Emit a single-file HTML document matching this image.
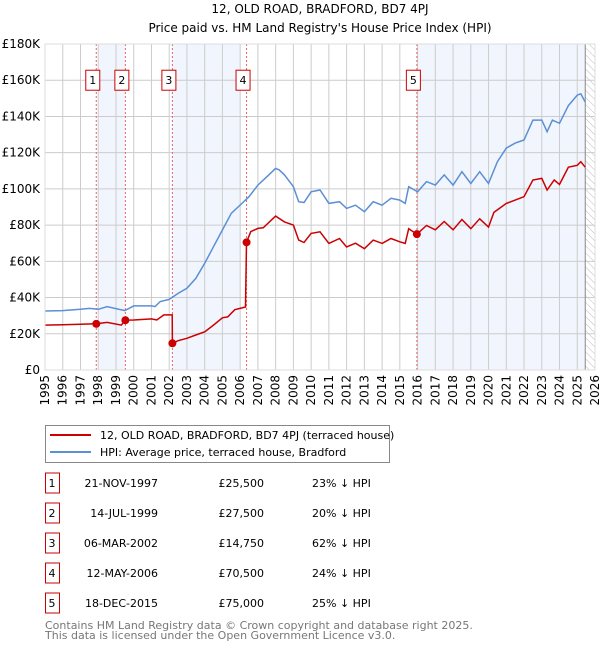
<!DOCTYPE html>
<html><head><meta charset="utf-8">
<style>
html,body{margin:0;padding:0;background:#fff;width:600px;height:650px;overflow:hidden}
svg{display:block;font-family:"DejaVu Sans","Liberation Sans",sans-serif}
</style></head>
<body>
<svg id="c" width="600" height="650">
<defs>
<pattern id="hatch" width="5" height="5" patternUnits="userSpaceOnUse" patternTransform="rotate(-45)">
<line x1="0" y1="0" x2="0" y2="5" stroke="#bbb" stroke-width="1"/></pattern>
</defs>
<text x="320" y="13" text-anchor="middle" font-size="12" fill="#000">12, OLD ROAD, BRADFORD, BD7 4PJ</text>
<text x="320" y="32" text-anchor="middle" font-size="12" fill="#000">Price paid vs. HM Land Registry's House Price Index (HPI)</text>
<g id="plot"></g>
<g>
<rect x="45.5" y="425.5" width="344" height="37" fill="#fff" stroke="#888"/>
<line x1="50" y1="435" x2="91" y2="435" stroke="#cc0000" stroke-width="2"/>
<text x="100" y="439" font-size="11">12, OLD ROAD, BRADFORD, BD7 4PJ (terraced house)</text>
<line x1="50" y1="452" x2="91" y2="452" stroke="#5b8fd6" stroke-width="2"/>
<text x="100" y="456" font-size="11">HPI: Average price, terraced house, Bradford</text>
</g>
<g id="table" font-size="11"></g>
<text x="45" y="629" font-size="11" fill="#777">Contains HM Land Registry data © Crown copyright and database right 2025.</text>
<text x="45" y="639" font-size="11" fill="#777">This data is licensed under the Open Government Licence v3.0.</text>
</svg>
<script>
const hpiYears=[1995,1996,1997,1997.5,1998,1998.5,1999.5,2000,2001,2001.2,2001.5,2002,2002.5,2003,2003.5,2004,2004.5,2005,2005.5,2006,2006.5,2007,2007.5,2008,2008.2,2008.5,2009,2009.3,2009.6,2010,2010.5,2011,2011.6,2012,2012.5,2013,2013.5,2014,2014.5,2015,2015.3,2015.5,2016,2016.5,2017,2017.5,2018,2018.5,2019,2019.5,2020,2020.5,2021,2021.5,2022,2022.5,2023,2023.3,2023.6,2024,2024.5,2025,2025.2,2025.45];
const hpiValues=[32.6,32.8,33.5,34.0,33.5,35.0,32.8,35.4,35.4,35.0,37.8,39.0,42.3,45.1,50.6,58.9,68.1,77.3,86.5,91.1,95.7,102.1,106.7,111.3,110.5,107.7,101.2,92.9,92.5,98.4,99.4,92.0,92.9,89.2,91.0,87.4,92.9,91.0,94.8,93.8,92.0,101.2,98.4,104.0,102.1,107.7,102.1,109.5,103.0,109.5,103.0,115.0,122.5,125.3,127.0,138.0,138.0,131.6,138.0,136.2,146.0,151.8,152.5,148.0];
const propYears=[1995,1996,1997,1997.89,1998.5,1999.3,1999.53,2000,2001,2001.3,2001.7,2002.17,2002.18,2002.5,2003,2003.5,2004,2004.5,2005,2005.3,2005.7,2006.3,2006.36,2006.6,2007,2007.3,2008,2008.5,2009,2009.3,2009.6,2010,2010.5,2011,2011.6,2012,2012.5,2013,2013.5,2014,2014.5,2015,2015.3,2015.5,2015.96,2016.5,2017,2017.5,2018,2018.5,2019,2019.5,2020,2020.3,2021,2021.5,2022,2022.5,2023,2023.3,2023.7,2024,2024.5,2025,2025.2,2025.45];
const propValues=[24.8,25.0,25.3,25.5,26.3,24.8,27.5,27.6,28.2,27.6,30.4,30.4,14.75,16.2,17.5,19.3,21.1,24.8,28.8,29.3,33.3,34.8,70.5,76.4,78.2,78.5,85.0,81.8,80.0,71.7,70.4,75.4,76.3,69.9,72.6,67.9,70.0,67.0,71.7,69.9,72.6,70.8,69.9,78.0,75.0,79.8,77.4,82.0,77.4,83.1,78.0,83.5,78.9,87.0,92.0,93.8,95.7,104.9,105.8,99.4,104.9,102.5,112.0,113.0,115.0,112.0];
const saleLabels=["1","2","3","4","5"];
const saleYears=[1997.89,1999.53,2002.18,2006.36,2015.96];
const salePrices=[25.5,27.5,14.75,70.5,75.0];
const saleDates=["21-NOV-1997","14-JUL-1999","06-MAR-2002","12-MAY-2006","18-DEC-2015"];
const salePriceText=["£25,500","£27,500","£14,750","£70,500","£75,000"];
const saleHpiText=["23% ↓ HPI","20% ↓ HPI","62% ↓ HPI","24% ↓ HPI","25% ↓ HPI"];
const yTicks=[0,20,40,60,80,100,120,140,160,180];
const yTickLabels=["£0","£20K","£40K","£60K","£80K","£100K","£120K","£140K","£160K","£180K"];
const xTicks=[1995,1996,1997,1998,1999,2000,2001,2002,2003,2004,2005,2006,2007,2008,2009,2010,2011,2012,2013,2014,2015,2016,2017,2018,2019,2020,2021,2022,2023,2024,2025,2026];
const bandStarts=[1998.0,2002.17,2015.95];
const bandEnds=[1999.5,2006.03,2025.45];
const forecastStart=2025.45;

const L=45,R=595,T=44,B=370;
const sx=y=>L+(y-1995)/(2026-1995)*(R-L);
const sy=v=>B-v/180*(B-T);
const NS="http://www.w3.org/2000/svg";
const plot=document.getElementById('plot');
function mk(tag,attrs,parent){const e=document.createElementNS(NS,tag);for(const k in attrs)e.setAttribute(k,attrs[k]);(parent||plot).appendChild(e);return e;}

let e=mk('rect',{x:L,y:T,width:R-L,height:B-T,fill:'#fff'});


bandStarts.forEach((s,i)=>{
  const b=mk('rect',{x:sx(s),y:T,width:sx(bandEnds[i])-sx(s),height:B-T,fill:'#eef3fd',opacity:0.8});
  
  
});
const h=mk('rect',{x:sx(forecastStart),y:T,width:R-sx(forecastStart),height:B-T,fill:'url(#hatch)'});


yTicks.forEach((v,i)=>{
  const g=mk('line',{x1:L,x2:R,y1:sy(v),y2:sy(v),stroke:'#ccc','stroke-width':1});
  
  
  const t=mk('text',{x:L-5,y:sy(v)+4,'text-anchor':'end','font-size':12,fill:'#000'});
  t.textContent=yTickLabels[i];
  
  
});
xTicks.forEach(yr=>{
  const g=mk('line',{x1:sx(yr),x2:sx(yr),y1:T,y2:B,stroke:'#ccc','stroke-width':1});
  
  
  const t=mk('text',{x:0,y:0,'text-anchor':'end','font-size':12,fill:'#000',transform:`translate(${sx(yr)+4},${B+5}) rotate(-90)`});
  t.textContent=yr;
  
  
});
const ln=mk('line',{x1:sx(forecastStart),x2:sx(forecastStart),y1:T,y2:B,stroke:'#888','stroke-width':1});


saleYears.forEach((s,i)=>{
  const d=mk('line',{x1:sx(s),x2:sx(s),y1:T,y2:B,stroke:'#e06666','stroke-width':1,'stroke-dasharray':'2,2'});
  
  
});
const pathOf=(xs,vs)=>xs.map((x,i)=>(i?'L':'M')+sx(x).toFixed(1)+','+sy(vs[i]).toFixed(1)).join('');
const hp=mk('path',{d:pathOf(hpiYears,hpiValues),fill:'none',stroke:'#5b8fd6','stroke-width':1.5});


const pp=mk('path',{d:pathOf(propYears,propValues),fill:'none',stroke:'#cc0000','stroke-width':1.5});


saleYears.forEach((s,i)=>{
  const c=mk('circle',{cx:sx(s),cy:sy(salePrices[i]),r:4,fill:'#cc0000'});
  
  
  const bx=mk('rect',{x:sx(s)-10.5,y:sy(160)-10,width:14,height:20,fill:'#fff',stroke:'#cc0000','stroke-width':1});
  
  
  const t=mk('text',{x:sx(s)-3.5,y:sy(160)+4,'text-anchor':'middle','font-size':11});
  t.textContent=saleLabels[i];
  
  
});
const border=mk('rect',{x:L,y:T,width:R-L,height:B-T,fill:'none',stroke:'#ddd'});



const tbl=document.getElementById('table');
saleLabels.forEach((lab,i)=>{
  const cy=483+i*30;
  const r=mk('rect',{x:45.5,y:cy-10,width:14,height:20,fill:'#fff',stroke:'#cc0000'},tbl);
  
  
  const cells=[[52,'middle',lab,'row-number'],[158,'end',saleDates[i],'row-date'],[264,'end',salePriceText[i],'row-price'],[312,'start',saleHpiText[i],'row-hpi-diff']];
  cells.forEach(c=>{
    const t=mk('text',{x:c[0],y:cy+4,'text-anchor':c[1]},tbl);
    t.textContent=c[2];
    
    
  });
});
</script>
</body></html>
